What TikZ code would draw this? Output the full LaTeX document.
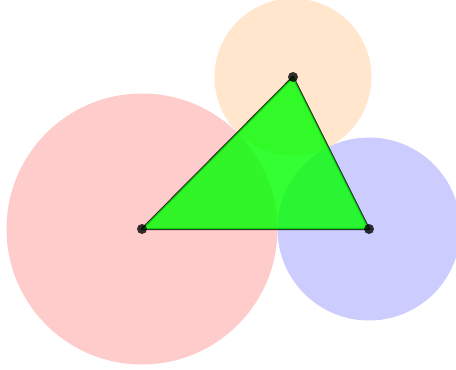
\documentclass[tikz,border=0pt]{standalone}
\usepackage{xcolor}
\usepackage{tikz}

\begin{document}
\begin{tikzpicture}[x=1pt,y=-1pt,
  disc/.style={fill=#1,fill opacity=0.2},
  vertex/.style={fill=black,fill opacity=0.8}]
  \useasboundingbox (0,0) rectangle (456,370);
  \clip (0,0) rectangle (456,370);
  \coordinate (A) at (142,229);
  \coordinate (B) at (293,77);
  \coordinate (C) at (369,229);
  % tangent circles
  \fill[disc=red] (A) circle (135.5);
  \fill[disc=orange] (B) circle (78.5);
  \fill[disc=blue] (C) circle (91.5);
  % triangle
  \draw[black,opacity=0.8,line width=2.2pt,line join=round] (A) -- (B) -- (C) -- cycle;
  \fill[green,fill opacity=0.8] (A) -- (B) -- (C) -- cycle;
  \foreach \p in {A,B,C} \fill[vertex] (\p) circle (5);
\end{tikzpicture}
\end{document}
